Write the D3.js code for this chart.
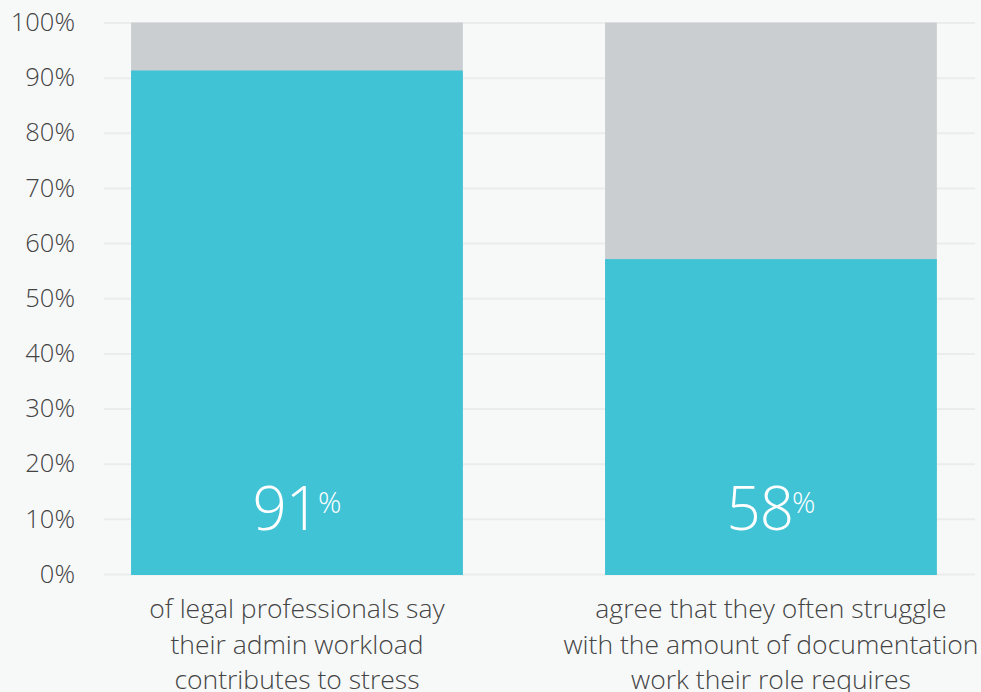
<!DOCTYPE html>
<html>
<head>
<meta charset="utf-8">
<script src="https://cdn.jsdelivr.net/npm/d3@7"></script>
<style>
  html, body { margin: 0; padding: 0; background: #f7f9f9; }
  svg { display: block; font-family: "Open Sans", sans-serif; }
  .tick-label text { font-size: 25.5px; font-weight: 300; fill: #444444; }
  .grid line { stroke: #ebeded; stroke-width: 2; }
  .value-label { fill: #ffffff; font-weight: 300; }
  .cat-label { font-size: 26.5px; font-weight: 300; fill: #444444; }
</style>
</head>
<body>
<div id="chart"></div>
<script>
const categories = ['stress', 'documentation']
const agreeValues = [91.3, 57.1]
const valueLabels = ['91', '58']
const categoryLines = [
    ['of legal professionals say', 'their admin workload', 'contributes to stress'],
    ['agree that they often struggle', 'with the amount of documentation', 'work their role requires']
]
const yTicks = [0, 10, 20, 30, 40, 50, 60, 70, 80, 90, 100]

function drawChart() {
    const width = 981
    const height = 692

    const svg = d3.select('#chart')
        .append('svg')
        .attr('width', width)
        .attr('height', height)

    const yScale = d3.scaleLinear()
        .domain([0, 100])
        .range([574, 22.5])

    const xScale = d3.scaleBand()
        .domain(categories)
        .range([104, 975])
        .paddingInner(0.3)
        .paddingOuter(0.0688)
        .align(0.415)

    // gridlines
    const grid = svg.append('g')
        .attr('class', 'grid')
        .attr('transform', 'translate(104,0)')
        .call(d3.axisLeft(yScale).tickValues(yTicks).tickSize(-871).tickFormat(''))
    grid.select('.domain').remove()

    // tick labels
    const labels = svg.append('g')
        .attr('class', 'tick-label')
        .attr('transform', 'translate(75,0)')
        .call(d3.axisLeft(yScale).tickValues(yTicks).tickSize(0).tickPadding(0).tickFormat(d => d + '%'))
    labels.select('.domain').remove()
    labels.attr('font-family', null).attr('font-size', null)

    const bars = svg.append('g')
        .selectAll('g')
        .data(categories)
        .enter().append('g')

    // remaining (grey) portion
    bars.append('rect')
        .attr('x', d => xScale(d))
        .attr('width', xScale.bandwidth())
        .attr('y', yScale(100))
        .attr('height', yScale(0) - yScale(100) + 1)
        .attr('fill', '#cbced1')

    bars.append('rect')
        .attr('x', d => xScale(d))
        .attr('width', xScale.bandwidth())
        .attr('y', (d, i) => yScale(agreeValues[i]))
        .attr('height', (d, i) => yScale(0) - yScale(agreeValues[i]) + 1)
        .attr('fill', '#41c3d6')

    const valueText = bars.append('text')
        .attr('class', 'value-label')
        .attr('x', d => xScale(d) + xScale.bandwidth() / 2)
        .attr('y', yScale(8))
        .attr('text-anchor', 'middle')

    valueText.append('tspan')
        .attr('font-size', 60)
        .attr('letter-spacing', -1)
        .text((d, i) => valueLabels[i])
    valueText.append('tspan')
        .attr('font-size', 29)
        .attr('dx', -1)
        .attr('dy', -17)
        .text('%')

    const catText = bars.append('text')
        .attr('class', 'cat-label')
        .attr('text-anchor', 'middle')

    catText.selectAll('tspan')
        .data((d, i) => categoryLines[i].map(line => ({ cat: d, line })))
        .enter().append('tspan')
        .attr('x', d => xScale(d.cat) + xScale.bandwidth() / 2)
        .attr('y', (d, i) => 618 + i * 35.5)
        .text(d => d.line)
}

drawChart()
</script>
</body>
</html>
